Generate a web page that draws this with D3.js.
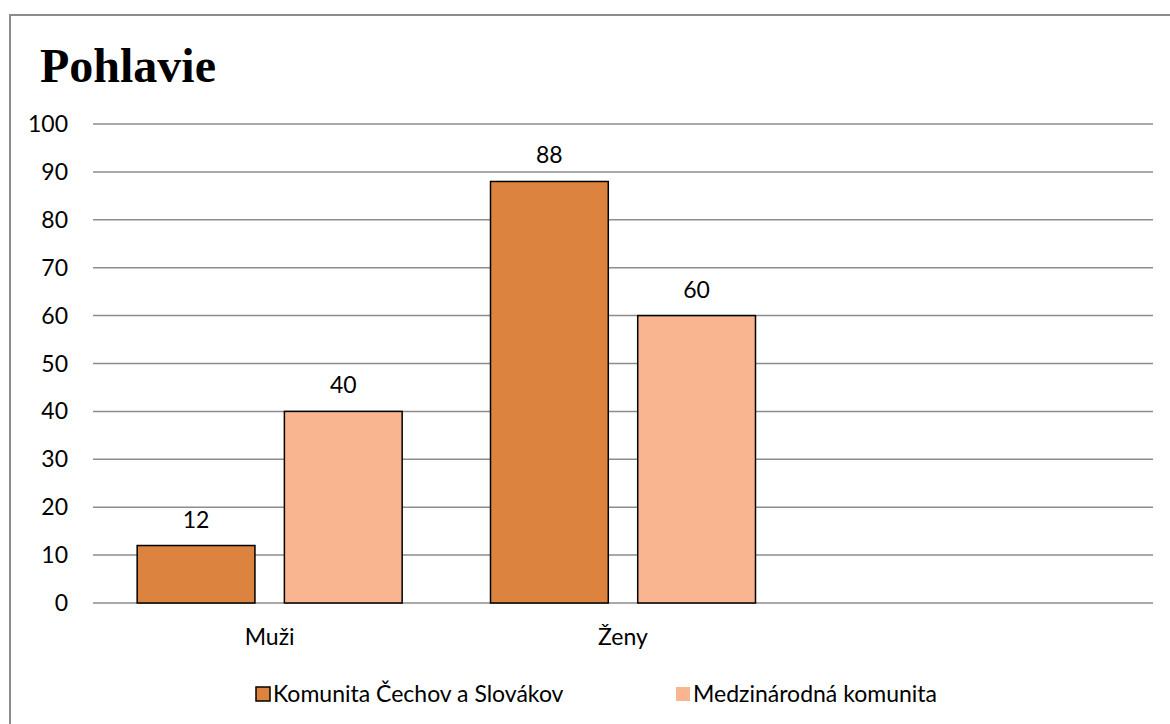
<!DOCTYPE html>
<html>
<head>
<meta charset="utf-8">
<script src="https://cdn.jsdelivr.net/npm/d3@7"></script>
<style>
  body { margin: 0; background: #fff; }
  text { font-family: Lato, "Open Sans", sans-serif; fill: #000; }
</style>
</head>
<body>
<div id="chart"></div>
<script>
// chart data
const title = "Pohlavie";
const categories = ["Muži", "Ženy", ""];
const seriesNames = ["Komunita Čechov a Slovákov", "Medzinárodná komunita"];
const czsk = [12, 88, null];
const intl = [40, 60, null];
const yTicks = [0, 10, 20, 30, 40, 50, 60, 70, 80, 90, 100];
const colors = ["#DC843F", "#F8B590"];

const W = 1170, H = 724;
const margin = {top: 124, right: 17, bottom: 121, left: 93};
const width = W - margin.left - margin.right,
      height = H - margin.top - margin.bottom;
const fs = "23px";

const svg = d3.select("#chart").append("svg")
    .attr("width", W)
    .attr("height", H);

// outer frame, runs off the right and bottom edges
svg.append("rect")
    .attr("x", 10).attr("y", 15)
    .attr("width", 1300).attr("height", 900)
    .attr("fill", "none")
    .attr("stroke", "#8c8c8c")
    .attr("stroke-width", 2);

svg.append("text")
    .attr("x", 40).attr("y", 82)
    .style("font-family", "'Liberation Serif', 'Times New Roman', serif")
    .style("font-weight", "bold")
    .style("font-size", "48px")
    .text(title);

const x0 = d3.scaleBand().domain(categories.map((c, i) => i)).range([0, width]);
const barW = x0.bandwidth() / 3;   // gap width 75%, overlap -25%
const y = d3.scaleLinear().domain([0, 100]).range([height, 0]);

const g = svg.append("g").attr("transform", `translate(${margin.left},${margin.top})`);

// gridlines
g.append("g")
    .selectAll("line")
    .data(yTicks)
    .enter().append("line")
    .attr("x1", 0).attr("x2", width)
    .attr("y1", d => y(d)).attr("y2", d => y(d))
    .attr("stroke", "#8c8c8c")
    .attr("stroke-width", 1.5);

// y labels
g.append("g")
    .selectAll("text")
    .data(yTicks)
    .enter().append("text")
    .attr("x", -25)
    .attr("y", d => y(d))
    .attr("dy", "0.35em")
    .attr("text-anchor", "end")
    .style("font-size", fs)
    .text(d => d);

// bars
const series = [czsk, intl];
series.forEach(function(vals, s) {
  const rows = vals.map((v, i) => ({i: i, v: v})).filter(d => d.v != null);
  const bx = d => x0(d.i) + x0.bandwidth() / 2 + (s === 0 ? -barW * 1.125 : barW * 0.125);
  g.append("g").selectAll("rect")
      .data(rows)
      .enter().append("rect")
      .attr("x", bx)
      .attr("y", d => y(d.v))
      .attr("width", barW)
      .attr("height", d => height - y(d.v))
      .attr("fill", colors[s])
      .attr("stroke", "#000")
      .attr("stroke-width", 1.5);
  g.append("g").selectAll("text")
      .data(rows)
      .enter().append("text")
      .attr("x", d => bx(d) + barW / 2)
      .attr("y", d => y(d.v) - 18)
      .attr("text-anchor", "middle")
      .style("font-size", fs)
      .text(d => d.v);
});

// category labels
g.append("g").selectAll("text")
    .data(categories)
    .enter().append("text")
    .attr("x", (d, i) => x0(i) + x0.bandwidth() / 2)
    .attr("y", height + 42)
    .attr("text-anchor", "middle")
    .style("font-size", fs)
    .text(d => d);

// legend
const legend = svg.append("g");
const items = [{x: 256, stroke: "#000"}, {x: 676, stroke: "none"}];
seriesNames.forEach(function(name, s) {
  legend.append("rect")
      .attr("x", items[s].x).attr("y", 687)
      .attr("width", 14).attr("height", 14)
      .attr("fill", colors[s])
      .attr("stroke", items[s].stroke)
      .attr("stroke-width", 1.5);
  legend.append("text")
      .attr("x", items[s].x + 17).attr("y", 702)
      .style("font-size", fs)
      .text(name);
});
</script>
</body>
</html>
